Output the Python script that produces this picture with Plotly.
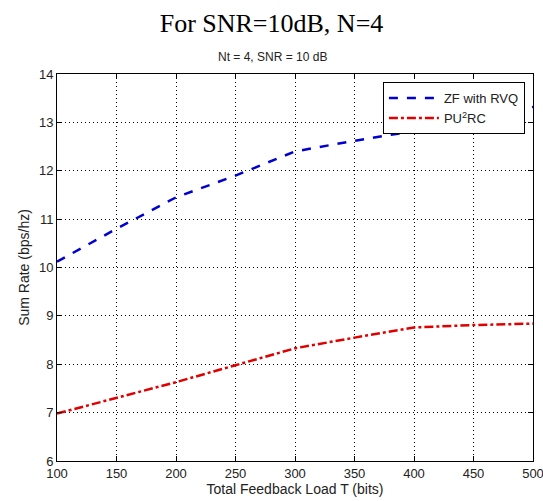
import plotly.graph_objects as go

# Total feedback load T (bits)
feedback_bits = [100, 150, 200, 250, 300, 350, 400, 450, 500]
# Sum rate (bps/hz)
zf_rvq = [10.12, 10.80, 11.45, 11.90, 12.40, 12.62, 12.82, 13.05, 13.32]
pu2rc = [6.98, 7.30, 7.63, 7.98, 8.33, 8.55, 8.76, 8.81, 8.84]

x_ticks = [100, 150, 200, 250, 300, 350, 400, 450, 500]
y_ticks = [6, 7, 8, 9, 10, 11, 12, 13, 14]

fig = go.Figure()
fig.add_trace(go.Scatter(x=feedback_bits, y=zf_rvq, mode='lines', name='ZF with RVQ',
                         line=dict(color='#0000D0', width=2.5, dash='dash')))
fig.add_trace(go.Scatter(x=feedback_bits, y=pu2rc, mode='lines', name='PU<sup>2</sup>RC',
                         line=dict(color='#E00000', width=2.5, dash='dashdot')))

axis_style = dict(
    showline=True, linecolor='black', linewidth=1, mirror='ticks',
    ticks='inside', ticklen=5, tickcolor='black',
    showgrid=True, gridcolor='black', gridwidth=1, griddash='1px,3px',
    zeroline=False, automargin=False, ticklabeloverflow='allow',
    tickfont=dict(family='Liberation Sans, Arial', size=13, color='#222'),
)

fig.update_xaxes(range=[100, 500], tickvals=x_ticks,
                 title=dict(text='Total Feedback Load T (bits)', standoff=3,
                            font=dict(family='Liberation Sans, Arial', size=14, color='#222')),
                 **axis_style)
fig.update_yaxes(range=[6, 14], tickvals=y_ticks,
                 title=dict(text='Sum Rate (bps/hz)', standoff=6,
                            font=dict(family='Liberation Sans, Arial', size=14, color='#222')),
                 **axis_style)

fig.update_layout(
    width=543, height=501,
    margin=dict(l=57, r=10, t=74, b=40, autoexpand=False),
    paper_bgcolor='white', plot_bgcolor='white',
    title=dict(text='For SNR=10dB, N=4', x=0.5, xref='container', xanchor='center',
               y=0.955, yref='container', yanchor='middle',
               font=dict(family='Liberation Serif, Times New Roman', size=26, color='black')),
    annotations=[dict(text='Nt = 4, SNR = 10 dB', xref='paper', yref='paper',
                      x=0.452, y=1.045, xanchor='center', yanchor='middle', showarrow=False,
                      font=dict(family='Liberation Sans, Arial', size=12, color='#222'))],
    legend=dict(x=0.983, y=0.979, xanchor='right', yanchor='top',
                bgcolor='white', bordercolor='black', borderwidth=1,
                font=dict(family='Liberation Sans, Arial', size=13, color='#222'),
                itemwidth=50, tracegroupgap=0),
    showlegend=True,
)

fig.write_html('out.html', config={'displayModeBar': False},
               post_script="document.body.style.margin='0';")
